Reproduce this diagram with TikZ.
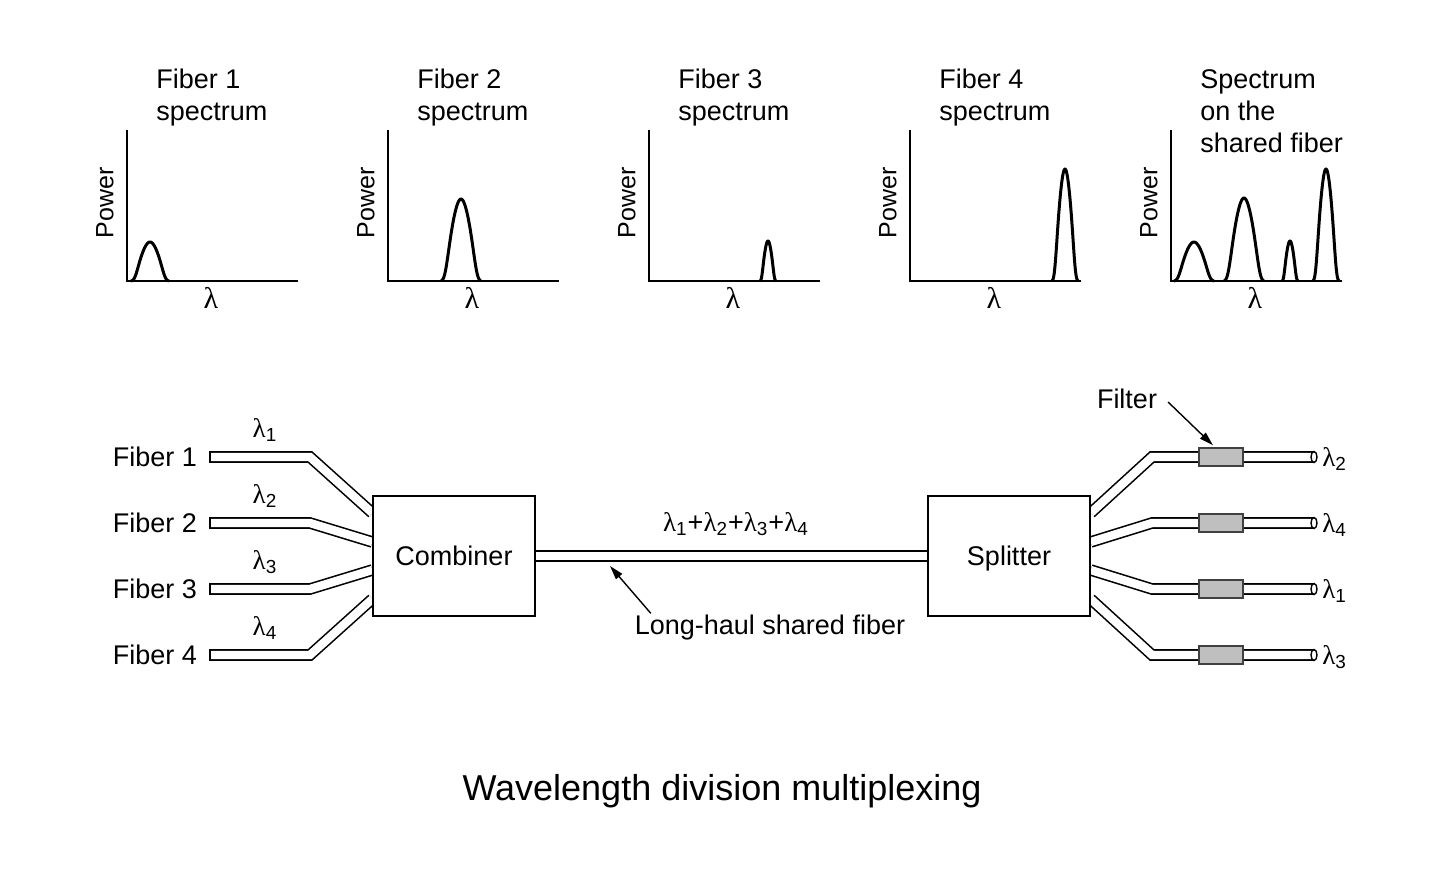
\documentclass[tikz,border=0pt]{standalone}
\usepackage{fontspec}
\setmainfont{Liberation Sans}
\newfontfamily\greekfont{Liberation Serif}
\usetikzlibrary{calc,arrows.meta,backgrounds}

\tikzset{
  tube/.style={line width=0.8pt, double=white, double distance=4.2pt},
  box/.style={draw, line width=0.7pt, fill=white, minimum width=81pt, minimum height=60pt},
  filterbox/.style={draw=black!75, line width=0.7pt, fill=black!25, minimum width=22pt, minimum height=9pt, inner sep=0pt},
  pointer/.style={line width=0.7pt, -{Triangle[length=7pt, width=4pt]}},
  peak/.style={line width=1.5pt, line join=round},
  axis/.style={line width=0.7pt}
}
\newcommand{\lam}[1]{{\greekfont λ}\textsubscript{#1}}

\begin{document}
\begin{tikzpicture}[x=0.5pt, y=-0.5pt, font=\fontsize{13.5}{16}\selectfont]
  \useasboundingbox (0,0) rectangle (1448,869);
  % spectra: one panel per fiber, last one = shared fiber
  \foreach \i/\ttl/\pk in {0/{Fiber 1\\spectrum}/{23/39/19},
                           1/{Fiber 2\\spectrum}/{73/82/20},
                           2/{Fiber 3\\spectrum}/{119/40/8},
                           3/{Fiber 4\\spectrum}/{155/112/13},
                           4/{Spectrum\\on the\\shared fiber}/{23/39/20, 73/83/20, 119/40/8, 155/112/13}}{
    \begin{scope}[shift={(127+261*\i,281)}]
      \node[anchor=north west, align=left, inner sep=0pt] (title\i) at (29,-212) {\ttl};
      \node[rotate=90, font=\fontsize{12.5}{15}\selectfont] (power\i) at (-22,-78) {Power};
      \node[font=\fontsize{15}{18}\greekfont] (lam\i) at (84,17) {λ};
      \draw[axis] (0,-151) -- (0,0) -- (171,0);
      \foreach \c/\h/\w in \pk
        \draw[peak, domain=-1:1, samples=51, variable=\t] plot ({\c+\w*\t}, {-\h*exp(-(2*\t*\t+4*\t*\t*\t*\t*\t*\t))});
    \end{scope}}
  % combiner and splitter
  \node[box] (comb) at (454,556) {Combiner};
  \node[box, text depth=0pt] (split) at (1009,556) {Splitter};
  % input fibers
  \foreach \k in {1,...,4}{
    \node[anchor=east] (fib\k) at (204,{391+66*\k}) {Fiber \k};
    \coordinate (in\k) at (210,{391+66*\k});
    \node (inlam\k) at (265,{364+66*\k}) {\lam{\k}};
    \draw[line width=0.8pt] ($(in\k)+(0,-5.8)$) -- ($(in\k)+(0,5.8)$);}
  % output fibers, filtered
  \foreach \k/\lab in {1/2, 2/4, 3/1, 4/3}{
    \coordinate (out\k) at (1314,{391+66*\k});
    \node[anchor=west, inner sep=1pt] (outlam\k) at (1320,{393+66*\k}) {\lam{\lab}};}
  \begin{scope}[on background layer]
    \foreach \k/\dy in {1/-43, 2/-14, 3/14, 4/43}{
      \draw[tube] (in\k) -- ++(100,0) -- ($(comb.west)+(0,\dy)$);
      \draw[tube] ($(split.east)+(0,\dy)$) -- ($(out\k)+(-162,0)$) -- (out\k);}
    \draw[tube] (comb.east) -- (split.west);
  \end{scope}
  \foreach \k in {1,...,4}{
    \node[filterbox] (flt\k) at ($(out\k)+(-93,0)$) {};
    \draw[line width=0.7pt, fill=white] (out\k) ellipse (3 and 5.5);}
  % labels and pointers
  \node (sum) at (736,524) {\lam{1}+\lam{2}+\lam{3}+\lam{4}};
  \node (haul) at (770,628) {Long-haul shared fiber};
  \coordinate (haultip) at (610,566);
  \draw[pointer] ($(haul.north west)+(23,5)$) -- (haultip);
  \node (filt) at (1127,399) {Filter};
  \draw[pointer] ($(filt.east)+(4,3)$) -- ([xshift=-4pt,yshift=1pt]flt1.north);
  \node[font=\fontsize{18}{22}\selectfont] (caption) at (722,791) {Wavelength division multiplexing};
\end{tikzpicture}
\end{document}
